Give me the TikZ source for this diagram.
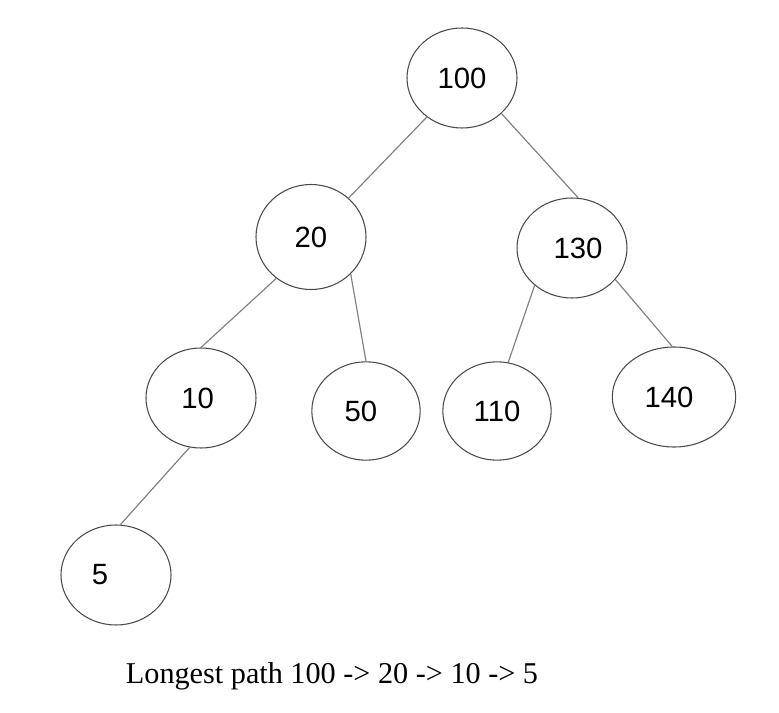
\documentclass[tikz,border=0pt]{standalone}
\usepackage{fontspec}
\setmainfont{Liberation Serif}
\newfontfamily\nodefont{Liberation Sans}
\usetikzlibrary{shapes.geometric}
\definecolor{rimgray}{HTML}{4A4A4A}
\definecolor{edgegray}{HTML}{808080}
\tikzstyle{vertex} = [ellipse, 
minimum width=3.3cm, 
minimum height=3cm, 
inner sep=0pt, 
draw=rimgray, 
line width=0.9pt, 
font=\nodefont\fontsize{25}{30}\selectfont]
\tikzstyle{edge} = [draw=edgegray, line width=1pt]

\begin{document}
\begin{tikzpicture}[x=0.03cm, y=-0.03cm]

  \useasboundingbox (0,0) rectangle (779,713);

  \node (n100) [vertex] at (462,78) {100};
  \node (n20) [vertex, minimum height=3.15cm] at (311,237) {20};
  \node (n130) [vertex] at (572,248) {\hspace*{0.36cm}130};
  \node (n10) [vertex] at (201,398) {10\hspace*{0.2cm}};
  \node (n50) [vertex, minimum width=3.25cm, minimum height=2.95cm] at (366,411) {50\hspace*{0.3cm}};
  \node (n110) [vertex, minimum width=3.25cm, minimum height=2.95cm] at (497,411) {110};
  \node (n140) [vertex, minimum width=3.7cm] at (674,397) {140\hspace*{0.3cm}};
  \node (n5) [vertex] at (116,575) {5\hspace*{0.96cm}};

  \draw [edge] (n100.228) -- (n20.46);
  \draw [edge] (n100.318) -- (n130.83);
  \draw [edge] (n20.230) -- (n10.90);
  \draw [edge] (n20.317) -- (n50.90);
  \draw [edge] (n130.225) -- (n110.77);
  \draw [edge] (n130.324) -- (n140.92);
  \draw [edge] (n10.257) -- (n5.85);

  \node (caption) [font=\fontsize{25.8}{30}\selectfont] at (332,676) {Longest path 100 -> 20 -> 10 -> 5};

\end{tikzpicture}
\end{document}
